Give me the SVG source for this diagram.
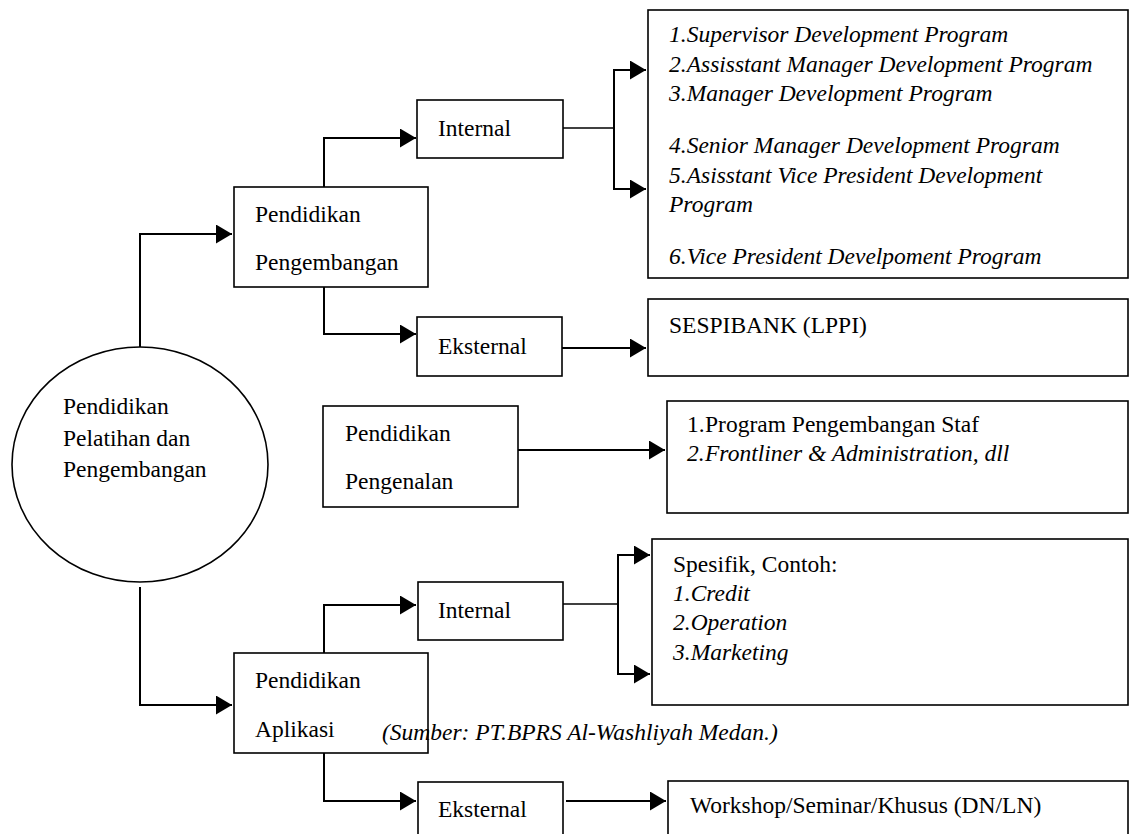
<svg xmlns="http://www.w3.org/2000/svg" width="1131" height="834" viewBox="0 0 1131 834" font-family="'Liberation Serif', 'Times New Roman', Tinos, 'DejaVu Serif', serif">
<style>
.box{fill:#fff;stroke:#000;stroke-width:1.6}
.t{font-family:'Liberation Serif','Times New Roman',Tinos,'DejaVu Serif',serif;font-size:23.5px;fill:#000}
.i{font-style:italic}
.c{fill:none;stroke:#000;stroke-width:2}
.c1{fill:none;stroke:#000;stroke-width:1.5}
</style>
<defs>
<marker id="ah" markerUnits="userSpaceOnUse" markerWidth="17" markerHeight="19" refX="16" refY="9.5" orient="auto">
<path d="M0,0 L16,9.5 L0,19 z" fill="#000"/>
</marker>
</defs>
<rect width="1131" height="834" fill="#fff"/>
<g id="connectors">
<polyline class="c" points="140,350 140,234 232,234" marker-end="url(#ah)"/>
<polyline class="c" points="140,587 140,705 232,705" marker-end="url(#ah)"/>
<polyline class="c" points="324,187 324,138 416,138" marker-end="url(#ah)"/>
<polyline class="c" points="324,287 324,334 416,334" marker-end="url(#ah)"/>
<line class="c1" x1="563" y1="128" x2="614" y2="128"/>
<polyline class="c" points="646,70 614,70 614,189 646,189" marker-end="url(#ah)"/>
<line class="c" x1="614" y1="70" x2="646" y2="70" marker-end="url(#ah)"/>
<line class="c" x1="562" y1="348" x2="646" y2="348" marker-end="url(#ah)"/>
<line class="c" x1="518" y1="450" x2="665" y2="450" marker-end="url(#ah)"/>
<polyline class="c" points="324,653 324,605 416,605" marker-end="url(#ah)"/>
<polyline class="c" points="324,753 324,801 416,801" marker-end="url(#ah)"/>
<line class="c1" x1="563" y1="604" x2="618" y2="604"/>
<polyline class="c" points="650,555 618,555 618,674 650,674" marker-end="url(#ah)"/>
<line class="c" x1="618" y1="555" x2="650" y2="555" marker-end="url(#ah)"/>
<line class="c" x1="566" y1="801" x2="666" y2="801" marker-end="url(#ah)"/>
</g>
<g id="root">
<ellipse class="box" cx="140" cy="464.5" rx="128" ry="117.5"/>
<text class="t" x="63" y="414">Pendidikan</text>
<text class="t" x="63" y="446">Pelatihan dan</text>
<text class="t" x="63" y="477">Pengembangan</text>
</g>
<g id="pend-pengembangan">
<rect class="box" x="234" y="187" width="194" height="100"/>
<text class="t" x="255" y="222">Pendidikan</text>
<text class="t" x="255" y="270">Pengembangan</text>
</g>
<g id="internal-1">
<rect class="box" x="417" y="100" width="146" height="58"/>
<text class="t" x="438" y="136">Internal</text>
</g>
<g id="programs-1">
<rect class="box" x="648" y="10" width="480" height="268"/>
<text class="t i" x="669" y="42">1.Supervisor Development Program</text>
<text class="t i" x="669" y="72">2.Assisstant Manager Development Program</text>
<text class="t i" x="669" y="101">3.Manager Development Program</text>
<text class="t i" x="669" y="153">4.Senior Manager Development Program</text>
<text class="t i" x="669" y="183">5.Asisstant Vice President Development</text>
<text class="t i" x="669" y="212">Program</text>
<text class="t i" x="669" y="264">6.Vice President Develpoment Program</text>
</g>
<g id="eksternal-1">
<rect class="box" x="417" y="317" width="145" height="59"/>
<text class="t" x="438" y="354">Eksternal</text>
</g>
<g id="sespibank">
<rect class="box" x="648" y="299" width="480" height="77"/>
<text class="t" x="669" y="333">SESPIBANK (LPPI)</text>
</g>
<g id="pend-pengenalan">
<rect class="box" x="323" y="406" width="195" height="101"/>
<text class="t" x="345" y="441">Pendidikan</text>
<text class="t" x="345" y="489">Pengenalan</text>
</g>
<g id="programs-2">
<rect class="box" x="667" y="401" width="461" height="112"/>
<text class="t" x="687" y="432">1.</text>
<text class="t" x="705" y="432">Program Pengembangan Staf</text>
<text class="t i" x="687" y="461">2.</text>
<text class="t i" x="705" y="461">Frontliner &amp; Administration, dll</text>
</g>
<g id="pend-aplikasi">
<rect class="box" x="234" y="653" width="194" height="100"/>
<text class="t" x="255" y="688">Pendidikan</text>
<text class="t" x="255" y="737">Aplikasi</text>
</g>
<g id="internal-2">
<rect class="box" x="418" y="582" width="145" height="58"/>
<text class="t" x="438" y="618">Internal</text>
</g>
<g id="spesifik">
<rect class="box" x="652" y="539" width="476" height="166"/>
<text class="t" x="673" y="572">Spesifik, Contoh:</text>
<text class="t i" x="673" y="601">1.Credit</text>
<text class="t i" x="673" y="630">2.Operation</text>
<text class="t i" x="673" y="660">3.Marketing</text>
</g>
<g id="eksternal-2">
<rect class="box" x="418" y="782" width="145" height="60"/>
<text class="t" x="438" y="817">Eksternal</text>
</g>
<g id="workshop">
<rect class="box" x="668" y="781" width="460" height="62"/>
<text class="t" x="690" y="813">Workshop/Seminar/Khusus (DN/LN)</text>
</g>
<g id="source">
<text class="t i" x="382" y="740">(Sumber: PT.BPRS Al-Washliyah Medan.)</text>
</g>
</svg>
